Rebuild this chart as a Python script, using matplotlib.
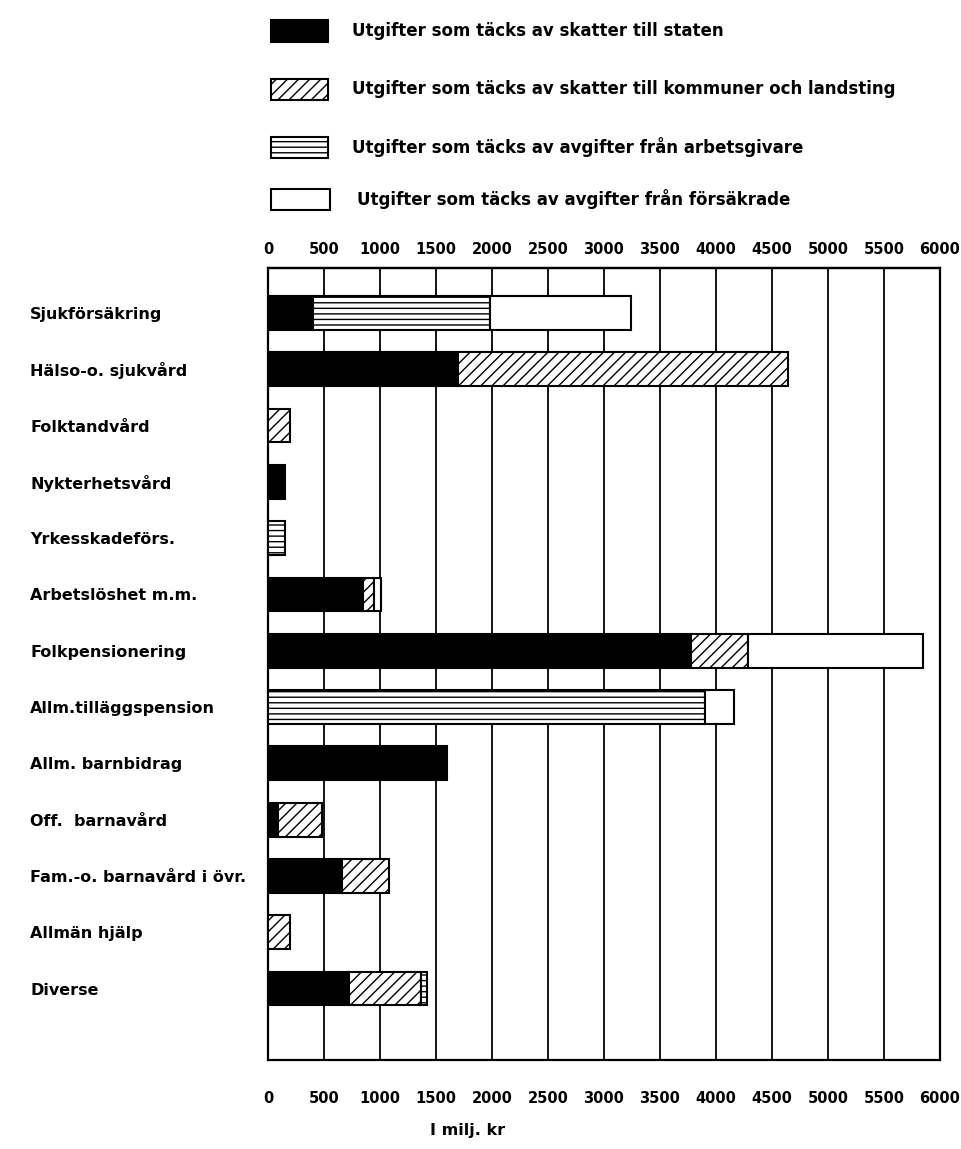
import matplotlib
matplotlib.use('Agg')
import matplotlib.pyplot as plt
from matplotlib.patches import Rectangle
from matplotlib import font_manager
import numpy as np

categories = ["Sjukförsäkring", "Hälso-o. sjukvård", "Folktandvård", "Nykterhetsvård",
              "Yrkesskadeförs.", "Arbetslöshet m.m.", "Folkpensionering",
              "Allm.tilläggspension", "Allm. barnbidrag", "Off.  barnavård",
              "Fam.-o. barnavård i övr.", "Allmän hjälp", "Diverse"]
state    = [400, 1700, 0, 150, 0, 850, 3780, 0, 1600, 90, 660, 0, 720]
kommun   = [0, 2940, 200, 0, 0, 100, 510, 0, 0, 390, 420, 200, 650]
employer = [1580, 0, 0, 0, 150, 0, 0, 3900, 0, 0, 0, 0, 50]
insured  = [1260, 0, 0, 0, 0, 60, 1560, 260, 0, 0, 0, 0, 0]

series_labels = ["Utgifter som täcks av skatter till staten",
                 "Utgifter som täcks av skatter till kommuner och landsting",
                 "Utgifter som täcks av avgifter från arbetsgivare",
                 "Utgifter som täcks av avgifter från försäkrade"]
xticks = list(range(0, 6001, 500))
xlabel = "I milj. kr"

plt.rcParams['font.family'] = ['DejaVu Sans']
plt.rcParams['hatch.linewidth'] = 1.0

names = {f.name for f in font_manager.fontManager.ttflist}
tick_family = 'Liberation Sans Narrow' if 'Liberation Sans Narrow' in names else 'DejaVu Sans'
tick_size = 13 if tick_family == 'Liberation Sans Narrow' else 10.5

W, H = 961, 1149
fig = plt.figure(figsize=(W / 100, H / 100), dpi=100)
ax_l, ax_r, ax_t, ax_b = 268, 940, 268, 1060
ax = fig.add_axes([ax_l / W, 1 - ax_b / H, (ax_r - ax_l) / W, (ax_b - ax_t) / H])

styles = [dict(facecolor='black', hatch=None),
          dict(facecolor='white', hatch='///'),
          dict(facecolor='white', hatch='---'),
          dict(facecolor='white', hatch=None)]

y = np.arange(len(categories))
left = np.zeros(len(categories))
for vals, st in zip([state, kommun, employer, insured], styles):
    vals = np.array(vals, dtype=float)
    m = vals > 0
    ax.barh(y[m], vals[m], left=left[m], height=0.6, facecolor=st['facecolor'],
            hatch=st['hatch'], edgecolor='black', linewidth=1.5, zorder=3)
    left += vals

ax.set_xlim(0, 6000)
ax.set_ylim(13.27, -0.8)
ax.set_xticks(xticks)
ax.set_xticklabels([str(t) for t in xticks], fontsize=tick_size, family=tick_family,
                   fontweight='bold')
ax.tick_params(axis='x', length=0, pad=22)
ax.grid(axis='x', color='black', linewidth=1.3)
ax.set_axisbelow(True)
for s in ax.spines.values():
    s.set_linewidth(1.6)

sec = ax.secondary_xaxis('top')
sec.set_xticks(xticks)
sec.set_xticklabels([str(t) for t in xticks], fontsize=tick_size, family=tick_family,
                    fontweight='bold')
sec.tick_params(length=0, pad=8)
sec.spines['top'].set_linewidth(1.6)

ax.set_yticks(y)
ax.set_yticklabels(categories, fontsize=11.5, ha='left', fontweight='bold')
ax.tick_params(axis='y', length=0, pad=(ax_l - 30) * 0.72)

fig.text(468 / W, 1 - 1130 / H, xlabel, ha='center', va='center', fontsize=11.5,
         fontweight='bold')

# legend
boxes = [(271, 20, 57, 22), (271, 79, 57, 21), (271, 137, 57, 21), (271, 189, 59, 21)]
text_x = [352, 352, 352, 357]
for (bx, by, bw, bh), st, lab, tx in zip(boxes, styles, series_labels, text_x):
    fig.add_artist(Rectangle((bx / W, 1 - (by + bh) / H), bw / W, bh / H,
                             transform=fig.transFigure, facecolor=st['facecolor'],
                             hatch=st['hatch'], edgecolor='black', linewidth=1.5))
    fig.text(tx / W, 1 - (by + bh / 2) / H, lab, ha='left', va='center', fontsize=12,
             fontweight='bold')

fig.savefig('out.png', dpi=100)
